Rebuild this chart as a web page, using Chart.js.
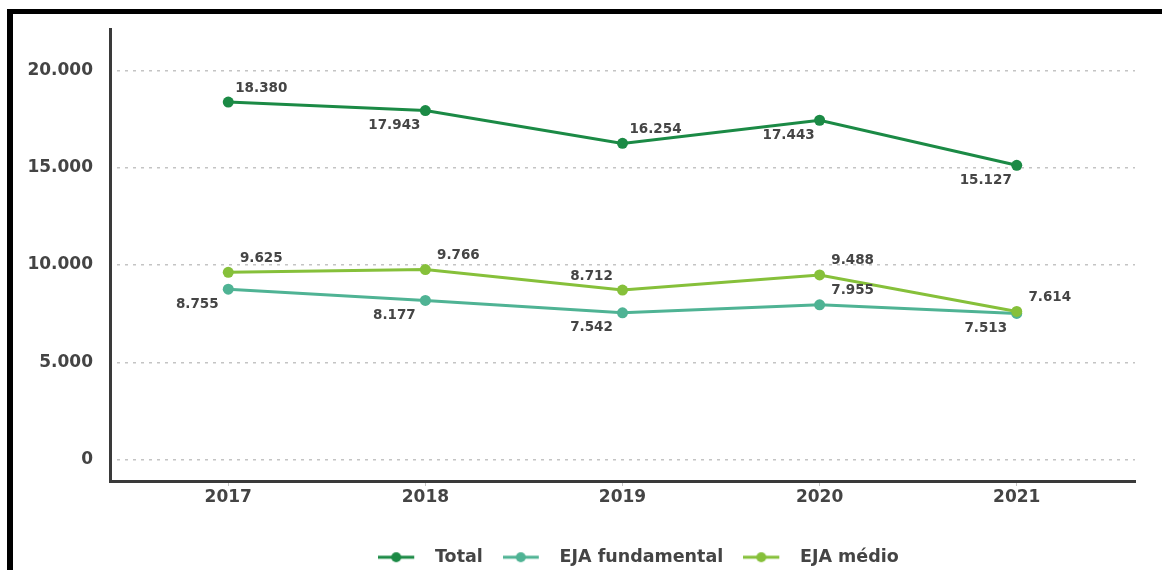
<!DOCTYPE html>
<html lang="pt-BR">
<head>
<meta charset="utf-8">
<title>Matrículas EJA</title>
<script src="https://cdn.jsdelivr.net/npm/chart.js@4.4.1/dist/chart.umd.min.js"></script>
<style>
  html, body { margin: 0; padding: 0; background: #fff; overflow: hidden; width: 1162px; height: 570px; }
  #wrap { position: absolute; left: 0; top: 0; width: 1277px; height: 576px; }
  #frame {
    position: absolute; left: 7px; top: 9px; width: 1300px; height: 700px;
    border-top: 5px solid #000; border-left: 6px solid #000; pointer-events: none;
  }
</style>
</head>
<body>
<div id="wrap"><canvas id="ejaChart"></canvas></div>
<div id="frame"></div>
<script>
// anos e séries
var anos = [2017, 2018, 2019, 2020, 2021];
var total = [18380, 17943, 16254, 17443, 15127];
var ejaFundamental = [8755, 8177, 7542, 7955, 7513];
var ejaMedio = [9625, 9766, 8712, 9488, 7614];
var yTicks = [0, 5000, 10000, 15000, 20000];

var cores = { total: '#1b8a45', fund: '#4fb394', medio: '#86c03a' };

// onde vai o rótulo de cada ponto (ne = acima/direita, sw = abaixo/esquerda...)
var lado = {
    total: ['ne', 'sw', 'ne', 'sw', 'sw'],
    fund: ['sw', 'sw', 'sw', 'ne', 'sw'],
    medio: ['ne', 'ne', 'nw', 'ne', 'ne']
};
var desloc = { ne: [33, -14], sw: [-31, 15], nw: [-31, -14] };

function fmt(n) {
    return String(n).replace(/\B(?=(\d{3})+(?!\d))/g, '.');
}

// simbolo da legenda: linha com bolinha
function simbolo(cor) {
    var c = document.createElement('canvas');
    c.width = 48; c.height = 14;
    var g = c.getContext('2d');
    g.strokeStyle = cor; g.lineWidth = 3;
    g.beginPath(); g.moveTo(0, 7); g.lineTo(36, 7); g.stroke();
    g.fillStyle = cor;
    g.beginPath(); g.arc(18, 7, 5, 0, Math.PI * 2); g.fill();
    return c;
}

var rotulos = {
    id: 'rotulos',
    afterDatasetsDraw: function (chart) {
        var ctx = chart.ctx;
        ctx.save();
        ctx.font = 'bold 13.5px "DejaVu Sans"';
        ctx.fillStyle = '#454545';
        ctx.textAlign = 'center';
        ctx.textBaseline = 'middle';
        chart.data.datasets.forEach(function (ds, i) {
            var meta = chart.getDatasetMeta(i);
            meta.data.forEach(function (pt, j) {
                var d = desloc[lado[ds.chave][j]];
                ctx.fillText(fmt(ds.data[j]), pt.x + d[0], pt.y + d[1]);
            });
        });
        ctx.restore();
    }
};

Chart.defaults.font.family = '"DejaVu Sans", sans-serif';
Chart.defaults.color = '#444';

function serie(label, chave, data, ordem) {
    return {
        label: label,
        chave: chave,
        data: data,
        order: ordem,
        borderColor: cores[chave],
        backgroundColor: cores[chave],
        pointBackgroundColor: cores[chave],
        pointBorderWidth: 0,
        pointRadius: 5.5,
        borderWidth: 3,
        tension: 0,
        fill: false
    };
}

var ctx = document.getElementById('ejaChart').getContext('2d');
var chart = new Chart(ctx, {
    type: 'line',
    data: {
        labels: anos,
        datasets: [
            serie('Total', 'total', total, 0),
            serie('EJA fundamental', 'fund', ejaFundamental, 0),
            serie('EJA médio', 'medio', ejaMedio, -1)
        ]
    },
    options: {
        responsive: true,
        maintainAspectRatio: false,
        animation: false,
        layout: { padding: { top: 29, left: 0, right: 0, bottom: 0 } },
        scales: {
            x: {
                type: 'linear',
                min: 2016.4,
                max: 2021.6,
                afterBuildTicks: function (s) { s.ticks = anos.map(function (v) { return { value: v }; }); },
                afterFit: function (s) { s.height = 47.5; },
                grid: { display: true, drawOnChartArea: false, drawTicks: true, tickLength: 5, tickColor: '#c4c4c4', tickWidth: 1 },
                border: { display: true, color: '#3a3a3a', width: 3 },
                ticks: {
                    padding: 1,
                    color: '#444',
                    font: { size: 17, weight: 'bold' },
                    maxRotation: 0,
                    autoSkip: false,
                    callback: function (v) { return String(v); }
                }
            },
            y: {
                min: -1105,
                max: 22134,
                afterBuildTicks: function (s) { s.ticks = yTicks.map(function (v) { return { value: v }; }); },
                afterFit: function (s) { s.width = 110; },
                grid: { display: true, color: '#c4c4c4', lineWidth: 1.5, drawTicks: false },
                border: { display: true, color: '#3a3a3a', width: 3, dash: [3, 5], dashOffset: 3 },
                ticks: {
                    padding: 17,
                    color: '#444',
                    font: { size: 17, weight: 'bold' },
                    callback: function (v) { return fmt(v); }
                }
            },
            folga: {
                type: 'linear',
                position: 'right',
                display: true,
                afterFit: function (s) { s.width = 142; },
                grid: { display: false },
                border: { display: false },
                ticks: { display: false }
            }
        },
        plugins: {
            legend: {
                position: 'bottom',
                labels: {
                    usePointStyle: true,
                    pointStyleWidth: 48,
                    padding: 20,
                    color: '#444',
                    font: { size: 17.5, weight: 'bold' },
                    generateLabels: function (chart) {
                        return chart.data.datasets.map(function (ds, i) {
                            return {
                                text: ds.label,
                                pointStyle: simbolo(cores[ds.chave]),
                                fillStyle: cores[ds.chave],
                                strokeStyle: cores[ds.chave],
                                lineWidth: 0,
                                hidden: false,
                                datasetIndex: i,
                                fontColor: '#444'
                            };
                        });
                    }
                }
            },
            tooltip: { enabled: false }
        }
    },
    plugins: [rotulos]
});
</script>
</body>
</html>
